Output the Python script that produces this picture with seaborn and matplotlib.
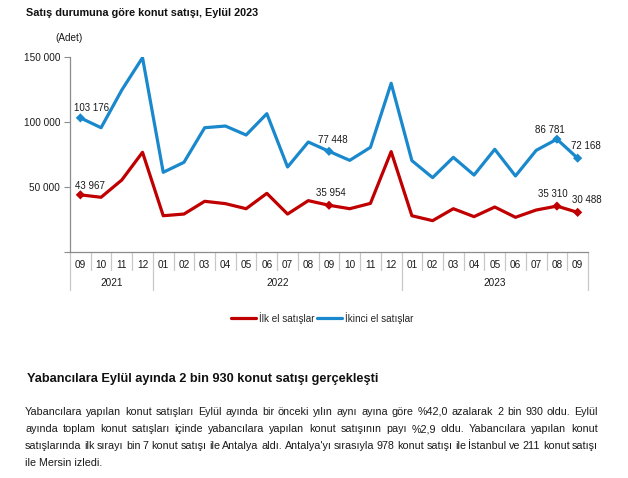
import numpy as np
import pandas as pd
import matplotlib
matplotlib.use("Agg")
import matplotlib.pyplot as plt
import matplotlib.transforms as mtransforms
from matplotlib.lines import Line2D
import seaborn as sns

# ---- data ----
months = ["09", "10", "11", "12",
          "01", "02", "03", "04", "05", "06", "07", "08", "09", "10", "11", "12",
          "01", "02", "03", "04", "05", "06", "07", "08", "09"]
years = ["2021", "2022", "2023"]
year_counts = [4, 12, 9]
ilk_el = [43967, 42100, 55400, 76700, 27900, 29200, 39000, 37200, 33300, 45100,
          29200, 39500, 35954, 33300, 37400, 77200, 27900, 24100, 33300, 27200,
          34600, 26700, 32300, 35310, 30488]
ikinci_el = [103176, 95600, 124600, 149500, 61300, 69000, 95600, 96900, 90000, 106400,
             65400, 84600, 77448, 70500, 80500, 129800, 70300, 57200, 72800, 59200,
             79000, 58500, 78200, 86781, 72168]
series_names = ["İlk el satışlar", "İkinci el satışlar"]
labeled_idx = [0, 12, 23, 24]
yticks = [0, 50000, 100000, 150000]

title = "Satış durumuna göre konut satışı, Eylül 2023"
unit = "(Adet)"
heading = "Yabancılara Eylül ayında 2 bin 930 konut satışı gerçekleşti"
para_lines = [
    "Yabancılara yapılan konut satışları Eylül ayında bir önceki yılın aynı ayına göre %42,0 azalarak 2 bin 930 oldu. Eylül",
    "ayında toplam konut satışları içinde yabancılara yapılan konut satışının payı %2,9 oldu. Yabancılara yapılan konut",
    "satışlarında ilk sırayı bin 7 konut satışı ile Antalya aldı. Antalya'yı sırasıyla 978 konut satışı ile İstanbul ve 211 konut satışı",
    "ile Mersin izledi.",
]

RED = "#c00000"
BLUE = "#1a88cc"
GRAY = "#8c8c8c"
TXT = "#1a1a1a"
FONT = ["Liberation Sans", "DejaVu Sans"]
FS = 7.2

sns.set_theme(style="white")
plt.rcParams["font.family"] = FONT

n = len(months)
df = pd.DataFrame({
    "x": list(range(n)) * 2,
    "value": ilk_el + ikinci_el,
    "seri": [series_names[0]] * n + [series_names[1]] * n,
})
palette = {series_names[0]: RED, series_names[1]: BLUE}

fig = plt.figure(figsize=(6.28, 4.78), dpi=100)
ax = fig.add_axes([70 / 628, 1 - 252 / 478, (588 - 70) / 628, (252 - 57) / 478])

sns.lineplot(data=df, x="x", y="value", hue="seri", palette=palette,
             linewidth=2.3, ax=ax, legend=False)
sub = df[df["x"].isin(labeled_idx)]
sns.scatterplot(data=sub, x="x", y="value", hue="seri", palette=palette,
                marker="D", s=22, edgecolor="none", ax=ax, legend=False, zorder=5)

# data labels
offsets = {(0, 0): (10, 9), (0, 12): (2, 12), (0, 23): (-4, 12), (0, 24): (9, 12),
           (1, 0): (11, 10), (1, 12): (4, 11), (1, 23): (-7, 9), (1, 24): (8, 12)}
for si, vals in enumerate([ilk_el, ikinci_el]):
    for i in labeled_idx:
        dx, dy = offsets[(si, i)]
        ax.annotate(f"{vals[i]:,}".replace(",", " "), (i, vals[i]),
                    xytext=(dx, dy), textcoords="offset pixels",
                    ha="center", va="center", fontsize=7.0, color=TXT)

ax.set_xlim(-0.5, n - 0.5)
ax.set_ylim(0, 150000)
ax.set_yticks(yticks)
ax.set_yticklabels(["" if v == 0 else f"{v:,}".replace(",", " ") for v in yticks],
                   fontsize=FS, color=TXT)
ax.tick_params(axis="y", which="both", direction="out", length=4, width=0.8,
               color=GRAY, pad=3, left=True)
ax.set_xticks(range(n))
ax.set_xticklabels(months, fontsize=FS, color=TXT)
ax.tick_params(axis="x", length=0, pad=6)
ax.set_xlabel("")
ax.set_ylabel("")
for s in ["top", "right"]:
    ax.spines[s].set_visible(False)
for s in ["left", "bottom"]:
    ax.spines[s].set_color(GRAY)
    ax.spines[s].set_linewidth(0.9)

# category separators
trans = mtransforms.blended_transform_factory(ax.transData, ax.transAxes)
px = 1 / 195.0  # one pixel in axes-y units
year_bounds = [-0.5]
c = -0.5
for k in year_counts:
    c += k
    year_bounds.append(c)
for b in np.arange(-0.5, n, 1.0):
    depth = 38 if b in year_bounds else 18
    ax.plot([b, b], [0, -depth * px], transform=trans, color="#c8c8c8",
            lw=0.9, clip_on=False)
start = -0.5
for yname, k in zip(years, year_counts):
    ax.text(start + k / 2, -31.5 * px, yname, transform=trans, ha="center",
            va="center", fontsize=FS, color=TXT)
    start += k

# legend
handles = [Line2D([], [], color=RED, lw=2.3), Line2D([], [], color=BLUE, lw=2.3)]
fig.legend(handles, series_names, loc="center", bbox_to_anchor=(322 / 628, 1 - 318 / 478),
           ncol=2, frameon=False, fontsize=FS, handlelength=2.5, handletextpad=0.3,
           columnspacing=0.3)

# titles
fig.text(26 / 628, 1 - 13 / 478, title, fontsize=7.8, fontweight="bold",
         ha="left", va="center", color="#111111")
fig.text(55 / 628, 1 - 38 / 478, unit, fontsize=FS, ha="left", va="center",
         color=TXT)
fig.text(27 / 628, 1 - 379 / 478, heading, fontsize=9.15, fontweight="bold",
         ha="left", va="center", color="#111111")

# justified paragraph (baseline aligned)
renderer = fig.canvas.get_renderer()
PFS = 7.75
PFAM = "Liberation Sans"
x0, x1 = 25, 598
line_base = [415, 432, 449, 466]
for li, (line, yy) in enumerate(zip(para_lines, line_base)):
    yf = 1 - yy / 478
    if li == len(para_lines) - 1:
        fig.text(x0 / 628, yf, line, fontsize=PFS, family=PFAM, ha="left",
                 va="baseline", color=TXT)
        continue
    words = line.split(" ")
    objs = [fig.text(0, yf, w, fontsize=PFS, family=PFAM, ha="left",
                     va="baseline", color=TXT) for w in words]
    widths = [o.get_window_extent(renderer).width for o in objs]
    gap = (x1 - x0 - sum(widths)) / (len(words) - 1)
    xp = x0
    for o, w in zip(objs, widths):
        o.set_x(xp / 628)
        xp += w + gap

fig.savefig("out.png", dpi=100)
